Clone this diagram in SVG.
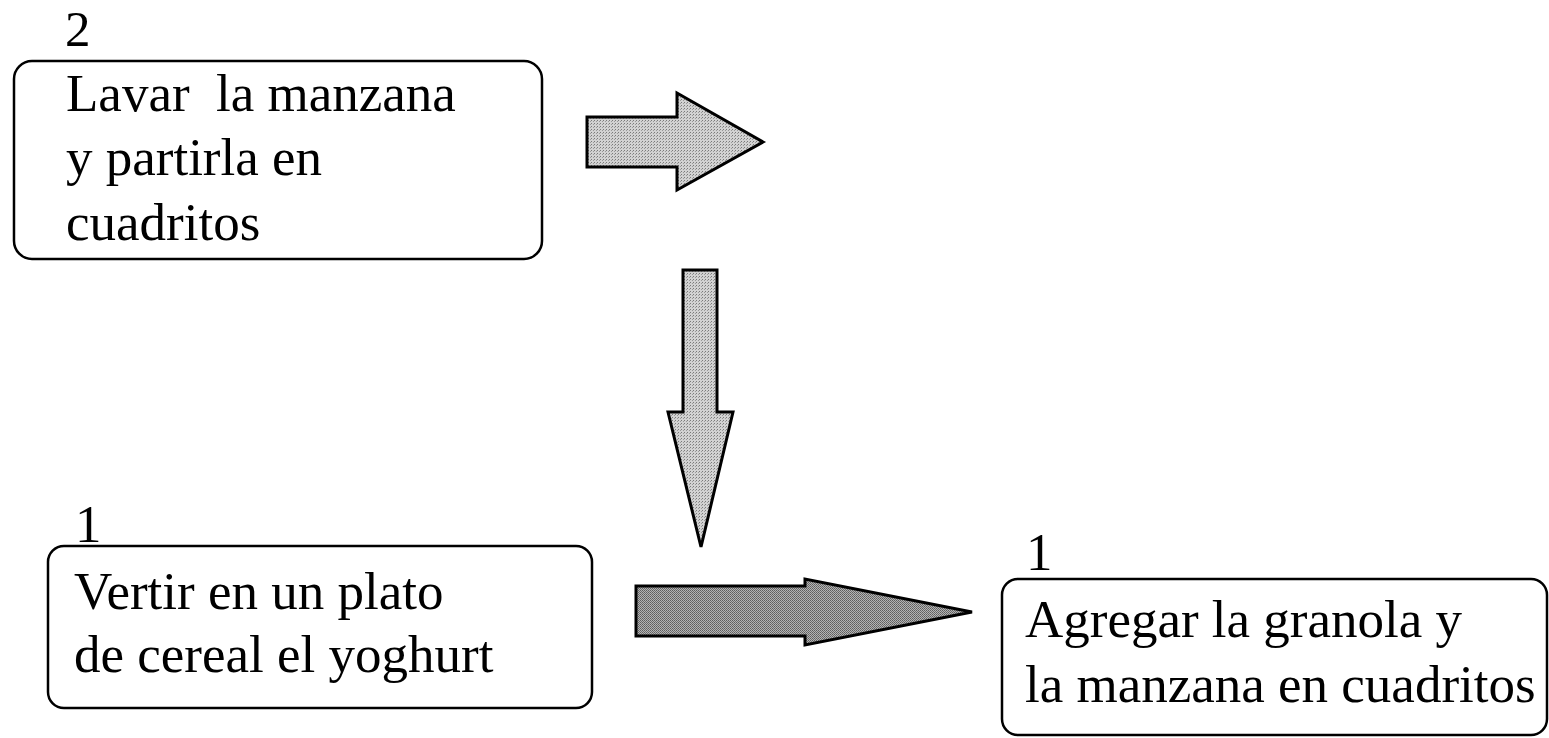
<svg xmlns="http://www.w3.org/2000/svg" width="1549" height="738" viewBox="0 0 1549 738">
<defs>
<pattern id="stipLight" patternUnits="userSpaceOnUse" width="3" height="3">
<rect width="3" height="3" fill="#d2d2d2"/>
<rect x="0" y="0" width="1" height="1" fill="#7a7a7a"/>
<rect x="2" y="1" width="1" height="1" fill="#9a9a9a"/>
</pattern>
<pattern id="stipDark" patternUnits="userSpaceOnUse" width="2" height="2">
<rect width="2" height="2" fill="#b4b4b4"/>
<rect x="0" y="0" width="1" height="1" fill="#5e5e5e"/>
<rect x="1" y="1" width="1" height="1" fill="#6e6e6e"/>
</pattern>
</defs>
<style>
.box{fill:#fff;stroke:#000;stroke-width:2.5}
.t{font-family:"Liberation Serif","Times New Roman",serif;font-size:53px;fill:#000}
.light{fill:url(#stipLight);stroke:#000;stroke-width:3;stroke-linejoin:miter}
.dark{fill:url(#stipDark);stroke:#000;stroke-width:3;stroke-linejoin:miter}
</style>
<rect width="1549" height="738" fill="#fff"/>
<g id="node-lavar">
<text class="t" x="65" y="46" style="font-size:51px">2</text>
<rect class="box" x="14" y="61" width="528" height="198" rx="18"/>
<text class="t" x="66" y="111" xml:space="preserve">Lavar  la manzana</text>
<text class="t" x="66" y="175">y partirla en</text>
<text class="t" x="66" y="240">cuadritos</text>
</g>
<g id="node-vertir">
<text class="t" x="75" y="542">1</text>
<rect class="box" x="48" y="546" width="544" height="162" rx="16"/>
<text class="t" x="74" y="609">Vertir en un plato</text>
<text class="t" x="74" y="672">de cereal el yoghurt</text>
</g>
<g id="node-agregar">
<text class="t" x="1026" y="570">1</text>
<rect class="box" x="1002" y="579" width="545" height="156" rx="16"/>
<text class="t" x="1025" y="637">Agregar la granola y</text>
<text class="t" x="1025" y="702">la manzana en cuadritos</text>
</g>
<g id="connectors">
<polygon class="light" points="587,117 677,117 677,93 763,142 677,190 677,167 587,167"/>
<polygon class="light" points="683,270 717,270 717,412 733,412 701,547 668,412 683,412"/>
<polygon class="dark" points="636,586 805,586 805,579 972,612 805,645 805,636 636,636"/>
</g>
</svg>
